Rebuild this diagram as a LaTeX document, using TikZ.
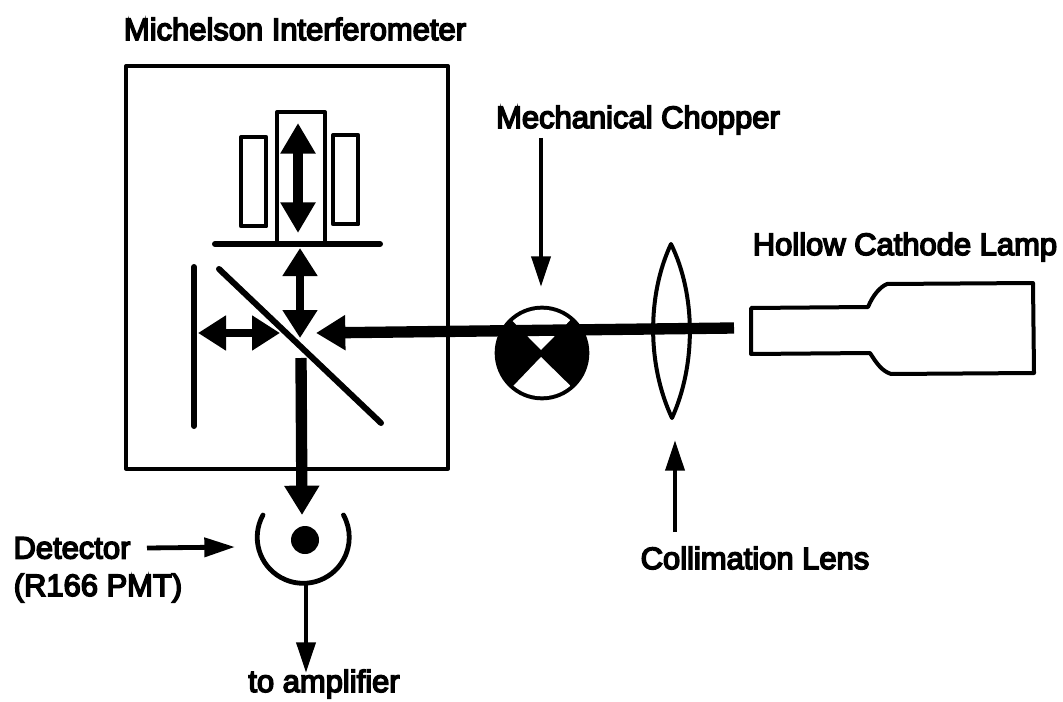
\documentclass[tikz,border=0pt]{standalone}
\usepackage{fontspec}
\newfontfamily\labfont[FakeBold=5]{Liberation Sans}
\usetikzlibrary{arrows.meta}
\tikzset{
  x=0.75pt,y=-0.75pt,
  outline/.style={draw=black,line width=3pt,line join=round},
  mirror/.style={draw=black,line width=4.5pt,line cap=round},
  thin arrow/.style={draw=black,line width=3.6pt,-{Triangle[length=23pt,width=14pt]}},
  beam/.style={draw=black,line width=8.5pt,-{Triangle[length=22pt,width=25pt]}},
  beam two/.style={draw=black,line width=6.5pt,{Triangle[length=21pt,width=25pt]}-{Triangle[length=21pt,width=25pt]}},
  label/.style={inner sep=0pt,font=\labfont\fontsize{23.2}{27}\selectfont,text=black},
}
\begin{document}
\begin{tikzpicture}
\useasboundingbox (0,0) rectangle (1063,702);
% interferometer box
\node[outline,minimum width=241.5pt,minimum height=302pt,inner sep=0pt,anchor=north west] (box) at (124,64) {};
\node[label] (title) at (295,29) {Michelson Interferometer};
% movable mirror assembly
\node[outline,minimum width=36pt,minimum height=99pt,inner sep=0pt,anchor=north west] (stage) at (275,110) {};
\node[outline,minimum width=19pt,minimum height=67pt,inner sep=0pt,anchor=north west] (refl) at (239,135) {};
\node[outline,minimum width=19pt,minimum height=67pt,inner sep=0pt,anchor=north west] (refr) at (331,133) {};
\coordinate (mt1) at (215,244); \coordinate (mt2) at (380,244);
\draw[mirror] (mt1) -- (mt2);
\coordinate (ml1) at (194,267); \coordinate (ml2) at (194,426);
\draw[mirror] (ml1) -- (ml2);
\coordinate (bs1) at (219,269); \coordinate (bs2) at (381,423);
\draw[mirror] (bs1) -- (bs2);
% double arrows
\coordinate (da1) at (298,123); \coordinate (da2) at (298,233);
\draw[draw=black,line width=7.5pt,{Triangle[length=23pt,width=25pt]}-{Triangle[length=23pt,width=25pt]}] (da1) -- (da2);
\coordinate (db1) at (300,248); \coordinate (db2) at (300,338);
\draw[beam two] (db1) -- (db2);
\coordinate (dc1) at (198,333); \coordinate (dc2) at (280,333);
\draw[beam two] (dc1) -- (dc2);
% chopper
\coordinate (chop) at (542,353);
\fill[black] (chop) circle[radius=35.5pt];
\begin{scope}
  \clip (chop) circle[radius=32.5pt];
  \fill[white] (541,357) -- (495,405) -- (590,405) -- cycle;
  \fill[white] (541,350) -- (490,298) -- (592,298) -- cycle;
\end{scope}
% lens
\coordinate (lt) at (671,244); \coordinate (lb) at (672,418);
\draw[outline] (lt) .. controls (647,295) and (647,365) .. (lb) .. controls (696,365) and (696,295) .. (lt) -- cycle;
% lamp
\coordinate (l1) at (751,308);
\draw[outline] (l1) -- (868,307) .. controls (873,295) and (880,287) .. (887,284) -- (1033,283) -- (1034,373) -- (891,374) .. controls (882,371) and (877,364) .. (870,353) -- (751,354) -- cycle;
% main beam
\coordinate (beamstart) at (734,328); \coordinate (beamtip) at (316,333);
\draw[beam] (beamstart) -- (beamtip);
% output beam
\coordinate (outstart) at (301,358); \coordinate (outtip) at (302,515);
\draw[beam] (outstart) -- (outtip);
% detector
\coordinate (detl) at (263,515);
\coordinate (dotc) at (305,540);
\draw[draw=black,line width=3.6pt,line cap=round] (detl) arc[start angle=151,end angle=389,radius=34.5pt];
\fill[black] (dotc) circle[radius=10.5pt];
% annotation arrows
\coordinate (c1) at (541,138); \coordinate (c2) at (541,287);
\draw[thin arrow] (c1) -- (c2);
\coordinate (e1) at (675,532); \coordinate (e2) at (675,440);
\draw[thin arrow] (e1) -- (e2);
\coordinate (f1) at (147,548); \coordinate (f2) at (235,547);
\draw[thin arrow] (f1) -- (f2);
\coordinate (g1) at (306,583); \coordinate (g2) at (306,673);
\draw[thin arrow] (g1) -- (g2);
% labels
\node[label] (mc) at (638,120) {Mechanical Chopper};
\node[label] (hcl) at (905,247) {Hollow Cathode Lamp};
\node[label] (cl) at (755,558) {Collimation Lens};
\node[label] (det) at (72,548) {Detector};
\node[label] (pmt) at (98,588) {(R166 PMT)};
\node[label] (amp) at (324,684) {to amplifier};
\end{tikzpicture}
\end{document}
